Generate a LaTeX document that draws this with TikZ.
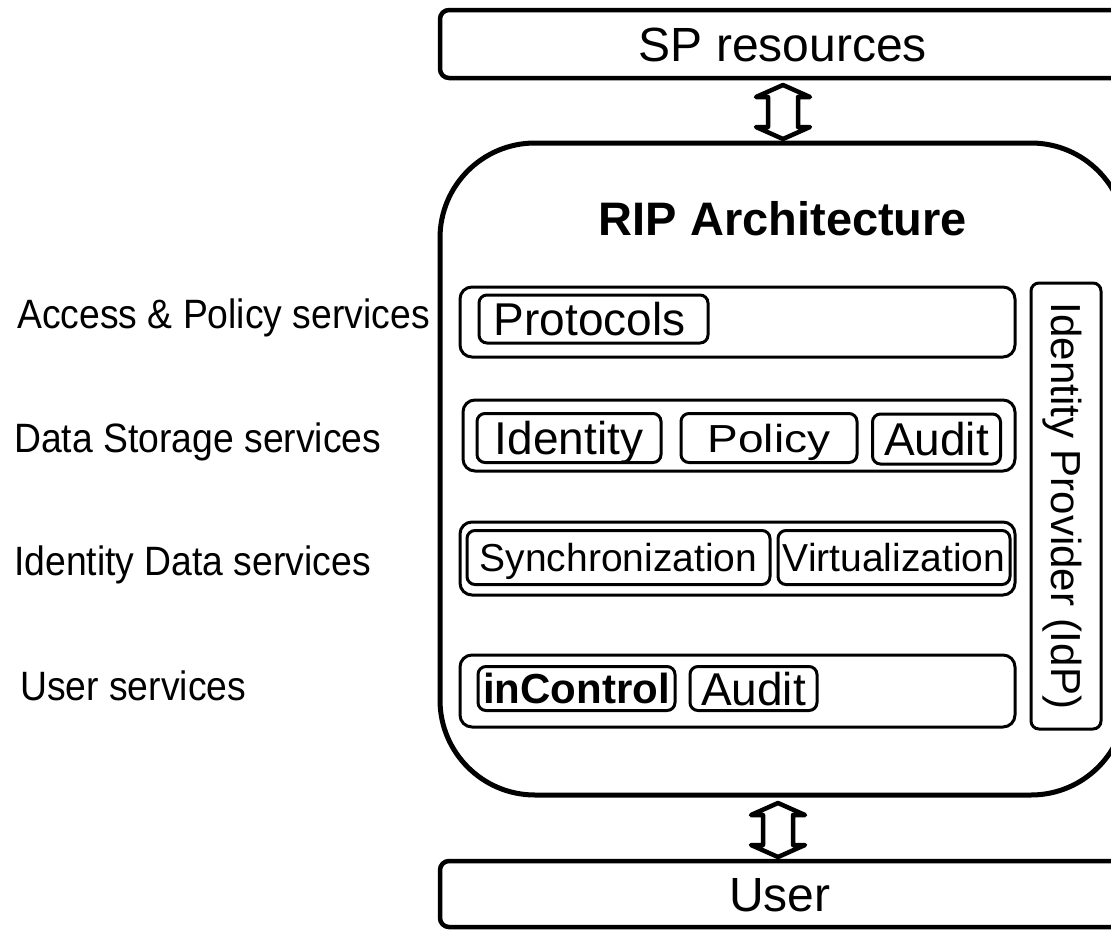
\documentclass[tikz,border=0pt]{standalone}
\usepackage{fontspec}
\setmainfont{Liberation Sans}
\begin{document}
\begin{tikzpicture}[x=1pt,y=-1pt,
  outer/.style={draw, line width=4.5pt, rounded corners=9pt, inner sep=0pt, font=\fontsize{48}{50}\selectfont, text height=34.4pt, text depth=0pt},
  rowbox/.style={draw, line width=3pt, rounded corners=12pt, inner sep=0pt},
  item/.style={draw, line width=3pt, rounded corners=8pt, inner sep=0pt, font=\fontsize{46}{50}\selectfont, text height=33pt, text depth=0pt},
  smallitem/.style={item, font=\fontsize{39}{42}\selectfont, text height=28pt},
  lbl/.style={font=\fontsize{41}{44}\selectfont, anchor=base west, inner sep=0pt, xscale=0.91},
  dblarrow/.style={draw, line width=4.5pt, line join=round}
]
\clip (0,0) rectangle (1111,929);
\useasboundingbox (0,0) rectangle (1111,929);

% outer boxes
\node[outer, minimum width=686pt, minimum height=68pt] (sp) at (783,44) {SP resources};
\node[draw, line width=5pt, rounded corners=95pt, minimum width=686pt, minimum height=652pt, inner sep=0pt] (rip) at (783,469) {};
\node[outer, minimum width=680pt, minimum height=66pt] (user) at (780,894) {User};

\node[font=\bfseries\fontsize{47}{50}\selectfont, anchor=base, inner sep=0pt] (title) at (783,235) {RIP Architecture};

% double arrows between the boxes
\coordinate (a1) at (783,112);
\coordinate (a2) at (778,830);
\foreach \c in {a1,a2}{
  \draw[dblarrow] (\c) +(0,-27) -- +(27,-15) -- +(15,-15) -- +(15,15) -- +(27,15) -- +(0,27)
     -- +(-27,15) -- +(-15,15) -- +(-15,-15) -- +(-27,-15) -- cycle;
}

% rows
\node[rowbox, minimum width=555pt, minimum height=70pt] (r1) at (737.5,322) {};
\node[rowbox, minimum width=552pt, minimum height=71pt] (r2) at (739,435.5) {};
\node[rowbox, minimum width=555pt, minimum height=73pt] (r3) at (737.5,558.5) {};
\node[rowbox, minimum width=555pt, minimum height=72pt] (r4) at (737.5,691) {};

% row 1
\node[item, minimum width=229pt, minimum height=48pt] (proto) at (593.5,319) {Protocols\,};
% row 2
\node[item, minimum width=184pt, minimum height=49pt] (ident) at (569,438) {Identity};
\node[item, minimum width=176pt, minimum height=49pt, text height=28pt] (policy) at (769,438) {\scalebox{1}[0.85]{Policy}};
\node[item, minimum width=128pt, minimum height=50pt] (audit1) at (936.5,439) {Audit};
% row 3
\node[smallitem, minimum width=303pt, minimum height=54pt] (sync) at (618.5,557.5) {Synchronization};
\node[smallitem, minimum width=232pt, minimum height=54pt] (virt) at (894,557.5) {Virtualization};
% row 4
\node[item, font=\bfseries\fontsize{42}{45}\selectfont, text height=30pt, minimum width=197pt, minimum height=44pt] (inc) at (576.5,688.5) {inControl};
\node[item, minimum width=127pt, minimum height=44pt] (audit2) at (753.5,688.5) {Audit};

% IdP
\node[item, font=\fontsize{42}{45}\selectfont, text height=30pt, rotate=-90, minimum width=446pt, minimum height=70pt] (idp) at (1066,506) {Identity Provider (IdP)};

% left labels
\node[lbl] (l1) at (17,328) {Access \& Policy services};
\node[lbl] (l2) at (14,452) {Data Storage services};
\node[lbl] (l3) at (14,575) {Identity Data services};
\node[lbl] (l4) at (20,700) {User services};
\end{tikzpicture}
\end{document}
